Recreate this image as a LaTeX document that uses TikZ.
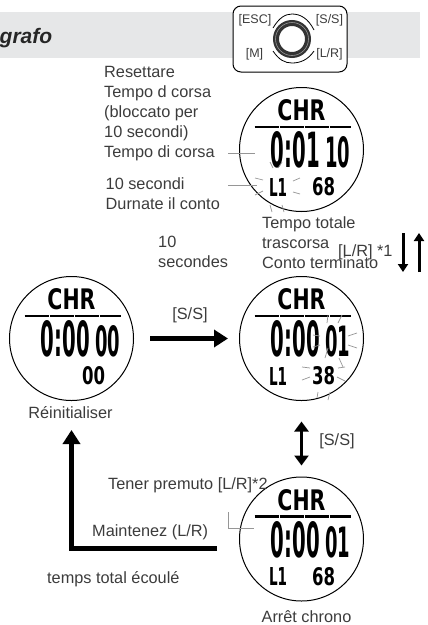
\documentclass[tikz,border=0pt]{standalone}
\usepackage{fontspec}
\setmainfont{Liberation Sans}
\newfontfamily\lcdfont{DejaVu Sans}
\usetikzlibrary{arrows.meta}
\definecolor{bandgrey}{RGB}{230, 231, 232}
\definecolor{labelgrey}{RGB}{60, 60, 60}
\definecolor{raygrey}{RGB}{150, 150, 150}
\newcommand{\lcd}[3]{\resizebox{#1pt}{#2pt}{\lcdfont\bfseries #3}}
\tikzset{
	lbl/.style={text=labelgrey, font=\fontsize{16.3}{20}\selectfont, inner sep=0pt, align=left, anchor=west},
	btnlbl/.style={text=labelgrey, font=\fontsize{12.5}{14}\selectfont, inner sep=0pt},
	dial/.style={circle, draw=black, line width=1pt, fill=white, minimum size=124pt, inner sep=0pt},
	lcdtxt/.style={inner sep=0pt, text=black},
	ray/.style={draw=raygrey, line width=0.7pt},
	bigarrow/.style={line width=5pt, -{Triangle[length=14pt, width=17pt]}},
	smallarrow/.style={line width=3pt, -{Triangle[length=8pt, width=10pt]}}
}
\begin{document}
\begin{tikzpicture}[x=1pt, y=-1pt]
	\useasboundingbox (0,0) rectangle (428,625);
	\fill[bandgrey] (0,12) rectangle (420,58);
	\node[anchor=west, inner sep=0pt, font=\fontsize{21}{24}\selectfont\bfseries\itshape, text=black!85] (title) at (-0.5,38) {grafo};
	% buttons
	\node[draw=black, line width=1pt, fill=white, rounded corners=8pt, minimum width=114pt, minimum height=66pt, inner sep=0pt] (pad) at (290,39) {};
	\draw[line width=0.8pt] (273,28) .. controls (279,18) and (285,14) .. (292,14) .. controls (300,14) and (308,18) .. (314,30);
	\draw[line width=0.8pt] (273,51) .. controls (279,60) and (285,63) .. (292,63) .. controls (300,63) and (308,60) .. (314,51);
	\node[circle, draw=black!80, line width=6pt, fill=white, minimum size=32pt, inner sep=0pt] (knob) at (292,39) {};
	\draw[raygrey, line width=0.6pt] (knob) circle (16.5pt);
	\node[btnlbl] (esc) at (255,20) {[ESC]};
	\node[btnlbl] (ss) at (329.5,20) {[S/S]};
	\node[btnlbl] (mm) at (254.5,54) {[M]};
	\node[btnlbl] (lr) at (329.5,54) {[L/R]};
	% watches
	\foreach \w/\cx/\cy/\hm/\ss/\rn/\rx in {chrlap/301.5/149.5/0:01/10/68/22, chrinit/71.5/338.5/0:00/00/00/22, chrrun/301.5/338.5/0:00/01/38/22, chrstop/301.5/539/0:00/01/68/22} {
		\node[dial] (\w) at (\cx,\cy) {};
		\node[lcdtxt] (\w chr) at (\cx,\cy-39) {\lcd{48}{21}{CHR}};
		\draw[line width=2.6pt, dash pattern=on 24pt off 1pt] (\cx-47,\cy-22.5) -- (\cx+49,\cy-22.5);
		\node[lcdtxt] (\w main) at (\cx-6,\cy+0.5) {\lcd{49}{36}{\hm}};
		\node[lcdtxt] (\w sec) at (\cx+36,\cy+3) {\lcd{25}{31}{\ss}};
		\node[lcdtxt] (\w right) at (\cx+\rx,\cy+37.5) {\lcd{23}{18}{\rn}};
	}
	\foreach \w in {chrlap, chrrun, chrstop} {
		\node[lcdtxt] (\w lap) at (\w.center) [yshift=-37.5pt, xshift=-23.5pt] {\lcd{18}{18}{L1}};
	}
	% flashing marks
	\foreach \a/\b/\c/\d in {270/162/273/168, 282/162/278/168, 255/178/263/180, 300/178/293/181, 255/195/263/191, 293/192/300/194, 270/205/272/212, 282/205/284/212} {
		\draw[ray] (\a,\b) -- (\c,\d);
	}
	\foreach \a/\b/\c/\d in {328/315/327/323, 342/315/338/323, 348/336/357/333, 348/345/357/348, 339/358/343/367, 328/348/325/358, 313/335/320/336, 313/347/320/345, 302/367/310/368, 302/380/310/377, 338/368/345/367, 337/377/345/381, 317/398/318/392, 330/392/328/400} {
		\draw[ray] (\a,\b) -- (\c,\d);
	}
	% labels
	\node[lbl] (reset) at (104,114) {Resettare\\Tempo d corsa\\(bloccato per\\10 secondi)\\Tempo di corsa};
	\node[lbl] (tensec) at (105.5,194) {10 secondi\\Durnate il conto};
	\node[lbl] (total) at (262,243) {Tempo totale\\trascorsa\\Conto terminato};
	\node[lbl] (tenfr) at (158,251.5) {10\\secondes};
	\node[lbl] (lrone) at (338,252) {[L/R] *1};
	\node[lbl, anchor=center] (init) at (70.5,412.5) {Réinitialiser};
	\node[lbl, anchor=center] (ssa) at (190,315) {[S/S]};
	\node[lbl, anchor=center] (ssb) at (337,441.5) {[S/S]};
	\node[lbl] (hold) at (108,485) {Tener premuto [L/R]*2};
	\node[lbl] (maint) at (92,532.5) {Maintenez (L/R)};
	\node[lbl] (elapsed) at (47,579) {temps total écoulé};
	\node[lbl, anchor=center] (stopped) at (306.5,616.5) {Arrêt chrono};
	% leader lines
	\coordinate (runl) at (228,153);
	\coordinate (runr) at (255,153);
	\coordinate (lapl) at (228,185);
	\coordinate (lapr) at (257,185);
	\coordinate (holdt) at (228,512);
	\coordinate (holdr) at (254,528);
	\draw[ray] (runl) -- (runr);
	\draw[ray] (lapl) -- (lapr);
	\draw[ray] (holdt) |- (holdr);
	% arrows
	\coordinate (downt) at (403,233);
	\coordinate (downb) at (403,272);
	\coordinate (upb) at (419,272);
	\coordinate (upt) at (419,233);
	\draw[smallarrow] (downt) -- (downb);
	\draw[smallarrow] (upb) -- (upt);
	\draw[bigarrow, shorten <=16pt, shorten >=11pt] (chrinit) -- (chrrun);
	\draw[line width=3.5pt, {Triangle[length=10pt, width=14pt]}-{Triangle[length=10pt, width=14pt]}, shorten <=20.5pt, shorten >=11pt] (chrrun) -- (chrstop);
	\coordinate (holdend) at (217,548);
	\coordinate (resettip) at (71.5,430);
	\draw[bigarrow] (holdend) -| (resettip);
\end{tikzpicture}
\end{document}
